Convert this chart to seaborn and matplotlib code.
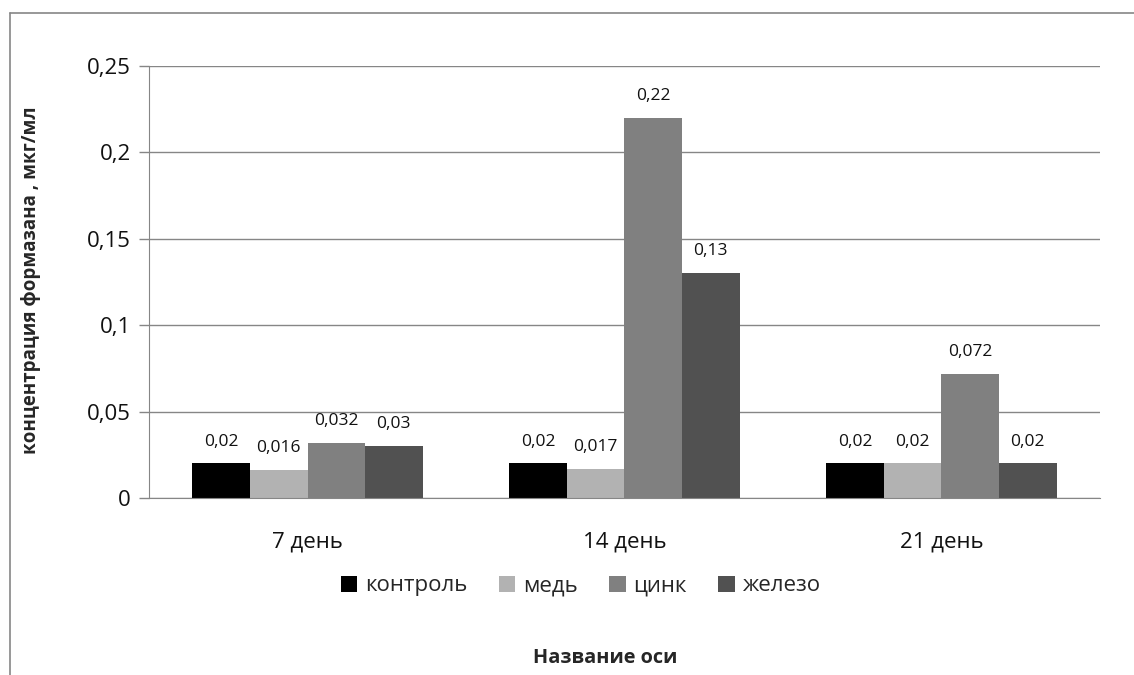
"""Bar chart: formazan concentration by day and metal treatment"""
import pandas as pd
import matplotlib
matplotlib.use("Agg")
import matplotlib.pyplot as plt
from matplotlib.lines import Line2D
from matplotlib.patches import Patch
import seaborn as sns

# data
days = ["7 день", "14 день", "21 день"]
groups = ["контроль", "медь", "цинк", "железо"]
control = [0.02, 0.02, 0.02]
copper = [0.016, 0.017, 0.02]
zinc = [0.032, 0.22, 0.072]
iron = [0.03, 0.13, 0.02]
yticks = [0, 0.05, 0.1, 0.15, 0.2, 0.25]
colors = ["#000000", "#b2b2b2", "#808080", "#515151"]

rows = []
for g, vals in zip(groups, [control, copper, zinc, iron]):
    for d, v in zip(days, vals):
        rows.append({"day": d, "group": g, "value": v})
df = pd.DataFrame(rows)


def ru(v):
    # Excel-style number with decimal comma
    return ("%g" % v).replace(".", ",")


sns.set_style("white")
plt.rcParams["font.family"] = ["Open Sans", "DejaVu Sans"]

fig = plt.figure(figsize=(11.34, 6.75), dpi=100)
ax = fig.add_axes([0.1314, 0.2622, 0.8386, 0.64])

sns.barplot(data=df, x="day", y="value", hue="group", hue_order=groups,
            order=days, palette=colors, saturation=1, width=0.726,
            legend=False, ax=ax, errorbar=None, linewidth=0, edgecolor="none")

for cont in ax.containers:
    ax.bar_label(cont, labels=[ru(b.get_height()) for b in cont],
                 padding=10, fontsize=12.5, color="#111111")

ax.set_ylim(0, 0.25)
ax.set_yticks(yticks)
ax.set_yticklabels([ru(t) for t in yticks], fontsize=16, color="#111111")
ax.set_xlim(-0.5, 2.5)
ax.tick_params(axis="x", labelsize=16, labelcolor="#111111", length=0, pad=24)
ax.tick_params(axis="y", length=7, width=1, color="#868686", pad=6,
               left=True, direction="out")
ax.yaxis.grid(True, color="#868686", linewidth=1)
ax.set_axisbelow(True)
for side in ["top", "right"]:
    ax.spines[side].set_visible(False)
ax.spines["left"].set_color("#868686")
ax.spines["bottom"].set_color("#868686")
ax.set_xlabel("")
ax.set_ylabel("")

fig.text(0.027, 0.585, "концентрация формазана , мкг/мл", rotation=90,
         ha="center", va="center", fontsize=13.5, fontweight="bold")
fig.text(0.534, 0.025, "Название оси", ha="center", va="center",
         fontsize=14.3, fontweight="bold")

handles = [Patch(facecolor=c, edgecolor="none") for c in colors]
fig.legend(handles, groups, loc="center", bbox_to_anchor=(0.512, 0.132),
           ncol=4, frameon=False, fontsize=16, handlelength=0.75,
           handleheight=0.75, handletextpad=0.35, columnspacing=1.4)

# chart-area border (only left and top visible in the crop)
fig.add_artist(Line2D([0.0088, 0.0088], [0.0, 0.981], color="#868686", lw=1.2))
fig.add_artist(Line2D([0.0088, 1.0], [0.981, 0.981], color="#868686", lw=1.2))

fig.savefig("out.png", dpi=100)
